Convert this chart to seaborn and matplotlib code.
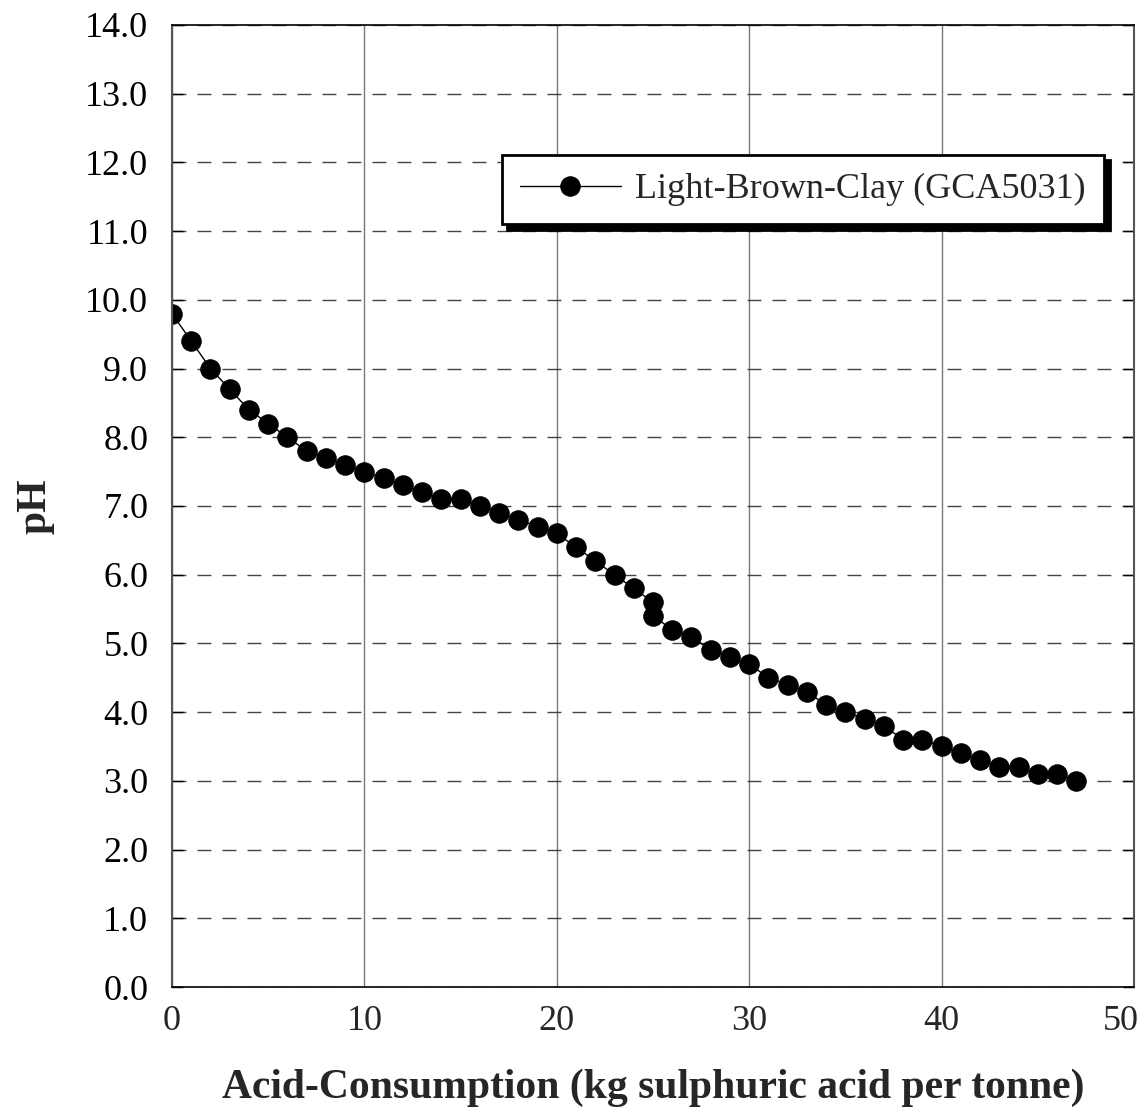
import matplotlib
matplotlib.use("Agg")
import matplotlib.pyplot as plt
import matplotlib.transforms as mtransforms
import seaborn as sns
import pandas as pd

acid = [0, 1, 2, 3, 4, 5, 6, 7, 8, 9, 10, 11, 12, 13, 14, 15, 16, 17, 18, 19,
        20, 21, 22, 23, 24, 25, 25, 26, 27, 28, 29, 30, 31, 32, 33, 34, 35, 36,
        37, 38, 39, 40, 41, 42, 43, 44, 45, 46, 47]
ph = [9.8, 9.4, 9.0, 8.7, 8.4, 8.2, 8.0, 7.8, 7.7, 7.6, 7.5, 7.4, 7.3, 7.2, 7.1,
      7.1, 7.0, 6.9, 6.8, 6.7, 6.6, 6.4, 6.2, 6.0, 5.8, 5.6, 5.4, 5.2, 5.1, 4.9,
      4.8, 4.7, 4.5, 4.4, 4.3, 4.1, 4.0, 3.9, 3.8, 3.6, 3.6, 3.5, 3.4, 3.3, 3.2,
      3.2, 3.1, 3.1, 3.0]
series_name = "Light-Brown-Clay (GCA5031)"
x_ticks = [0, 10, 20, 30, 40, 50]
y_ticks = [i * 1.0 for i in range(15)]
x_label = "Acid-Consumption (kg sulphuric acid per tonne)"
y_label = "pH"

sns.set_style("white")
plt.rcParams['font.family'] = ['Liberation Serif', 'DejaVu Serif']

df = pd.DataFrame({"x": acid, "y": ph, "series": series_name})

fig = plt.figure(figsize=(11.48, 11.09), dpi=100)
ax = fig.add_axes([0.1498, 0.110, 0.8380, 0.8675])

sns.lineplot(data=df, x="x", y="y", hue="series", palette=["black"],
             estimator=None, sort=False, marker="o", markersize=14,
             markeredgecolor="black", linewidth=1.0, ax=ax)

ax.set_xlim(0, 50)
ax.set_ylim(0, 14)
ax.set_xticks(x_ticks)
ax.set_yticks(y_ticks)
ax.set_xticklabels([str(v) for v in x_ticks], fontsize=26)
ax.set_yticklabels([f"{v:.1f}" for v in y_ticks], fontsize=26)

ax.xaxis.grid(True, color="#777777", linestyle="-", linewidth=1.0)
ax.yaxis.grid(True, color="#444444", linestyle=(0, (10, 8)), linewidth=1.0)
ax.set_axisbelow(True)

ax.tick_params(axis="y", direction="in", length=8, width=1, left=True,
               right=True, pad=17, colors="black")
ax.tick_params(axis="x", length=0, pad=13)

# keep the last x tick label inside the figure, as in the reference
last = ax.get_xticklabels()[-1]
last.set_transform(last.get_transform() +
                   mtransforms.ScaledTranslation(-0.13, 0, fig.dpi_scale_trans))

for side in ["top", "bottom"]:
    ax.spines[side].set_color("black")
    ax.spines[side].set_linewidth(1.2)
for side in ["left", "right"]:
    ax.spines[side].set_color("#555555")
    ax.spines[side].set_linewidth(1.5)

ax.set_xlabel(x_label, fontsize=30, fontweight="bold", labelpad=22)
ax.set_ylabel(y_label, fontsize=30, fontweight="bold", labelpad=22)

leg = ax.legend(loc="upper right", bbox_to_anchor=(0.969, 0.865),
                borderaxespad=0, fontsize=26, handlelength=2.8,
                frameon=True, fancybox=False,
                shadow={"ox": 4, "oy": -4, "color": "black", "alpha": 1.0},
                borderpad=0.5, handletextpad=0.4)
leg.get_frame().set_edgecolor("black")
leg.get_frame().set_linewidth(2.0)
leg.get_frame().set_facecolor("white")
leg.get_frame().set_alpha(1.0)
for h in leg.legend_handles:
    h.set_markersize(14)

fig.savefig("out.png", dpi=100)
